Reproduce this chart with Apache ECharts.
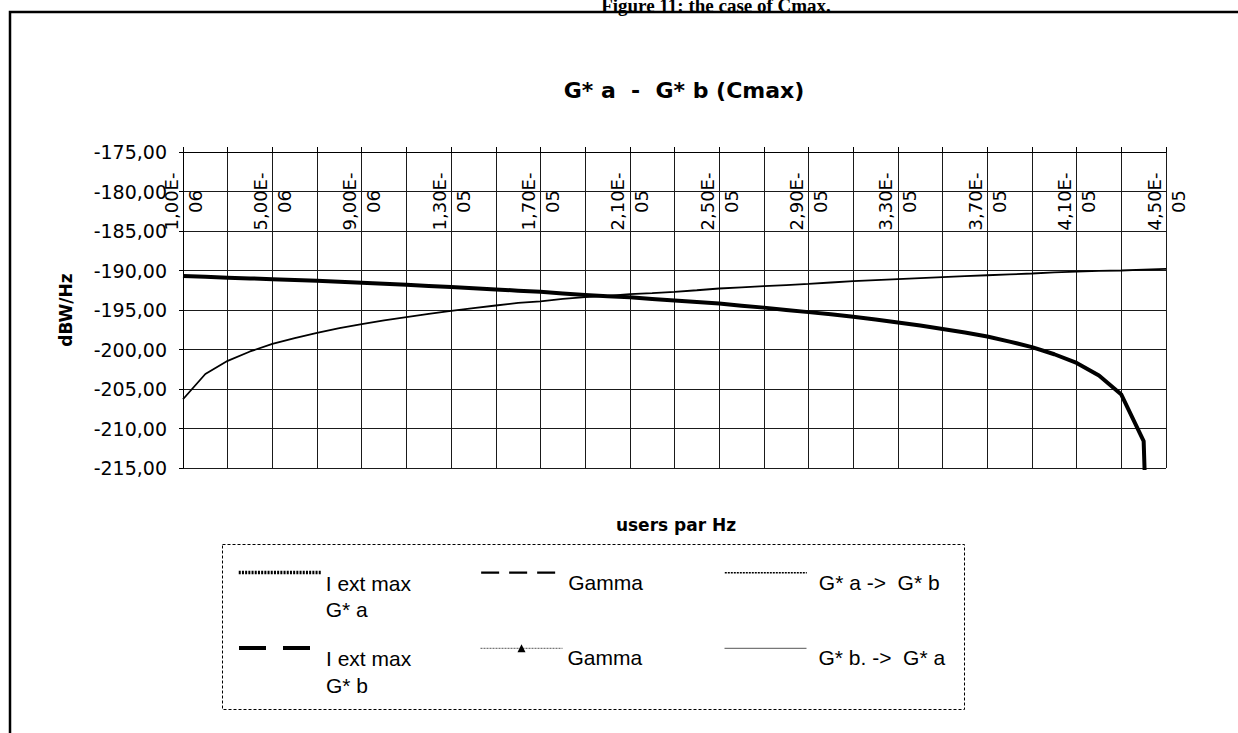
<!DOCTYPE html>
<html>
<head>
<meta charset="utf-8">
<title>G* a - G* b (Cmax)</title>
<script src="https://cdn.jsdelivr.net/npm/echarts@6.0.0/dist/echarts.min.js"></script>
<style>
  html, body { margin: 0; padding: 0; background: #fff; }
  #chart { width: 1238px; height: 733px; }
</style>
</head>
<body>
<div id="chart"></div>
<script>
// users per Hz (category axis, one point every 1E-06)
const categories = [
  '1,00E-06', '2,00E-06', '3,00E-06', '4,00E-06', '5,00E-06', '6,00E-06', '7,00E-06', '8,00E-06', '9,00E-06',
  '1,00E-05', '1,10E-05', '1,20E-05', '1,30E-05', '1,40E-05', '1,50E-05', '1,60E-05', '1,70E-05', '1,80E-05',
  '1,90E-05', '2,00E-05', '2,10E-05', '2,20E-05', '2,30E-05', '2,40E-05', '2,50E-05', '2,60E-05', '2,70E-05',
  '2,80E-05', '2,90E-05', '3,00E-05', '3,10E-05', '3,20E-05', '3,30E-05', '3,40E-05', '3,50E-05', '3,60E-05',
  '3,70E-05', '3,80E-05', '3,90E-05', '4,00E-05', '4,10E-05', '4,20E-05', '4,30E-05', '4,40E-05', '4,50E-05'
];

// dBW/Hz
const iExtMaxGa = [];
const gammaA = [];
const gaToGb = [];
const iExtMaxGb = [
  -190.7, -190.8, -190.92, -191.0, -191.1, -191.2, -191.3, -191.43, -191.56, -191.68,
  -191.8, -191.95, -192.1, -192.25, -192.4, -192.55, -192.7, -192.9, -193.1, -193.25,
  -193.4, -193.6, -193.8, -194.0, -194.17, -194.45, -194.7, -195.0, -195.27, -195.55,
  -195.86, -196.2, -196.58, -196.97, -197.4, -197.85, -198.35, -199.0, -199.7, -200.6,
  -201.7, -203.3, -205.7, -211.6, -300
];
const gammaB = [];
const gbToGa = [
  -206.3, -203.1, -201.43, -200.25, -199.3, -198.56, -197.9, -197.3, -196.8, -196.3,
  -195.9, -195.5, -195.1, -194.76, -194.43, -194.1, -193.9, -193.6, -193.37, -193.2,
  -193.0, -192.87, -192.7, -192.5, -192.28, -192.13, -191.98, -191.84, -191.7, -191.52,
  -191.35, -191.22, -191.1, -190.97, -190.84, -190.72, -190.6, -190.49, -190.38, -190.25,
  -190.13, -190.06, -190.0, -189.9, -189.8
];

const yTicks = { min: -215, max: -175, step: 5 };

const SANS = 'DejaVu Sans';
const LEG_FONT = 'Liberation Sans';

const chart = echarts.init(document.getElementById('chart'), null, { renderer: 'svg' });

// one legend block per entry so the three columns line up; a spacer line on top
// pushes the label below the middle of its key line
function legendBlock(name, left, top, twoLines, lineStyle, itemStyle, extraPadLeft) {
  return {
    show: true,
    orient: 'vertical',
    left: left,
    top: top,
    padding: 0,
    itemWidth: 82,
    itemHeight: 10,
    selectedMode: false,
    data: [name],
    formatter: function (n) {
      const lines = n.replace('max ', 'max\n').split('\n');
      return '{s| }\n' + lines.map(function (l) { return '{t|' + l + '}'; }).join('\n');
    },
    textStyle: {
      color: '#000',
      rich: {
        s: { fontSize: 4, lineHeight: twoLines ? 48 : 19 },
        t: { fontFamily: LEG_FONT, fontSize: 21, lineHeight: 26.5, color: '#000',
             padding: [0, 0, 0, extraPadLeft || 0] }
      }
    },
    lineStyle: lineStyle,
    itemStyle: itemStyle || { opacity: 0 }
  };
}

const row1 = 572.7, row2 = 648.3;
const twoLineTop = 50.5 - 21.7, oneLineTop = 22.75 - 7.5;

const option = {
  backgroundColor: '#fff',
  animation: false,
  graphic: {
    elements: [
      { type: 'rect', shape: { x: 10, y: 12, width: 1260, height: 760 },
        style: { fill: 'none', stroke: '#000', lineWidth: 2.5 }, silent: true },
      { type: 'text', style: { x: 716, y: 5, text: 'Figure 11: the case of Cmax.',
        font: 'bold 19px "Liberation Serif"', fill: '#000', align: 'center', verticalAlign: 'middle' } },
      { type: 'text', style: { x: 684, y: 90.5, text: 'G* a  -  G* b (Cmax)',
        font: 'bold 22px "DejaVu Sans"', fill: '#000', align: 'center', verticalAlign: 'middle' } },
      { type: 'text', style: { x: 676, y: 524.5, text: 'users par Hz',
        font: 'bold 17px "DejaVu Sans"', fill: '#000', align: 'center', verticalAlign: 'middle' } },
      { type: 'rect', shape: { x: 222.5, y: 544.5, width: 742, height: 165 },
        style: { fill: 'none', stroke: '#000', lineWidth: 1, lineDash: [3, 2] }, silent: true }
    ]
  },
  legend: [
    legendBlock('I ext max G* a', 237, row1 - twoLineTop, true, { type: [2, 1.2], width: 3.5, color: '#000' }),
    legendBlock('I ext max G* b', 237, row2 - twoLineTop, true, { type: [27, 17], width: 4, color: '#000' }),
    legendBlock('Gamma', 480, row1 - oneLineTop, false, { type: [18, 10], width: 2.3, color: '#000' }),
    legendBlock('Gamma ', 480, row2 - oneLineTop, false, { type: [2, 1], width: 1, color: '#555' },
      { opacity: 1, color: '#000' }),
    legendBlock('G* a ->  G* b', 724, row1 - oneLineTop, false, { type: [2, 1], width: 1.6, color: '#000' }, null, 7),
    legendBlock('G* b. ->  G* a', 724, row2 - oneLineTop, false, { type: 'solid', width: 1, color: '#555' }, null, 7)
  ],
  grid: { left: 183, right: 72, top: 152, bottom: 265, containLabel: false },
  xAxis: {
    type: 'category',
    position: 'top',
    data: categories,
    boundaryGap: false,
    axisLine: { show: true, lineStyle: { color: '#000', width: 1 } },
    axisTick: { show: true, interval: 1, length: 5, inside: false, lineStyle: { color: '#000' } },
    splitLine: { show: true, interval: 1, lineStyle: { color: '#1a1a1a', width: 1 } },
    axisLabel: {
      show: true,
      interval: 3,
      inside: true,
      rotate: -90,
      margin: 49.5,
      align: 'center',
      verticalAlign: 'middle',
      fontFamily: SANS,
      fontSize: 18,
      lineHeight: 24,
      color: '#000',
      formatter: function (v) { return v.replace('E-', 'E-\n'); }
    }
  },
  yAxis: {
    type: 'value',
    min: yTicks.min,
    max: yTicks.max,
    interval: yTicks.step,
    name: 'dBW/Hz',
    nameLocation: 'middle',
    nameRotate: 90,
    nameGap: 109,
    nameMoveOverlap: false,
    nameTextStyle: { fontFamily: SANS, fontWeight: 'bold', fontSize: 17, color: '#000' },
    axisLine: { show: true, lineStyle: { color: '#000', width: 1 } },
    axisTick: { show: true, length: 4, inside: false, lineStyle: { color: '#000' } },
    splitLine: { show: true, lineStyle: { color: '#1a1a1a', width: 1 } },
    axisLabel: {
      margin: 16,
      fontFamily: SANS,
      fontSize: 19,
      color: '#000',
      formatter: function (v) { return v.toFixed(2).replace('.', ','); }
    }
  },
  series: [
    { name: 'I ext max G* a', type: 'line', data: iExtMaxGa, symbol: 'none',
      color: '#000', lineStyle: { color: '#000', width: 3.5, type: [2, 1.2] } },
    { name: 'Gamma', type: 'line', data: gammaA, symbol: 'none',
      color: '#000', lineStyle: { color: '#000', width: 2.3, type: [18, 10] } },
    { name: 'G* a ->  G* b', type: 'line', data: gaToGb, symbol: 'none',
      color: '#000', lineStyle: { color: '#000', width: 1.6, type: [2, 1] } },
    { name: 'I ext max G* b', type: 'line', data: iExtMaxGb, symbol: 'none',
      color: '#000', lineStyle: { color: '#000', width: 4, type: 'solid', join: 'round' } },
    { name: 'Gamma ', type: 'line', data: gammaB, symbol: 'triangle', symbolSize: 8,
      color: '#000', lineStyle: { color: '#555', width: 1, type: [2, 1] } },
    { name: 'G* b. ->  G* a', type: 'line', data: gbToGa, symbol: 'none',
      color: '#000', lineStyle: { color: '#000', width: 1.8, type: 'solid' } }
  ]
};

chart.setOption(option);
</script>
</body>
</html>
